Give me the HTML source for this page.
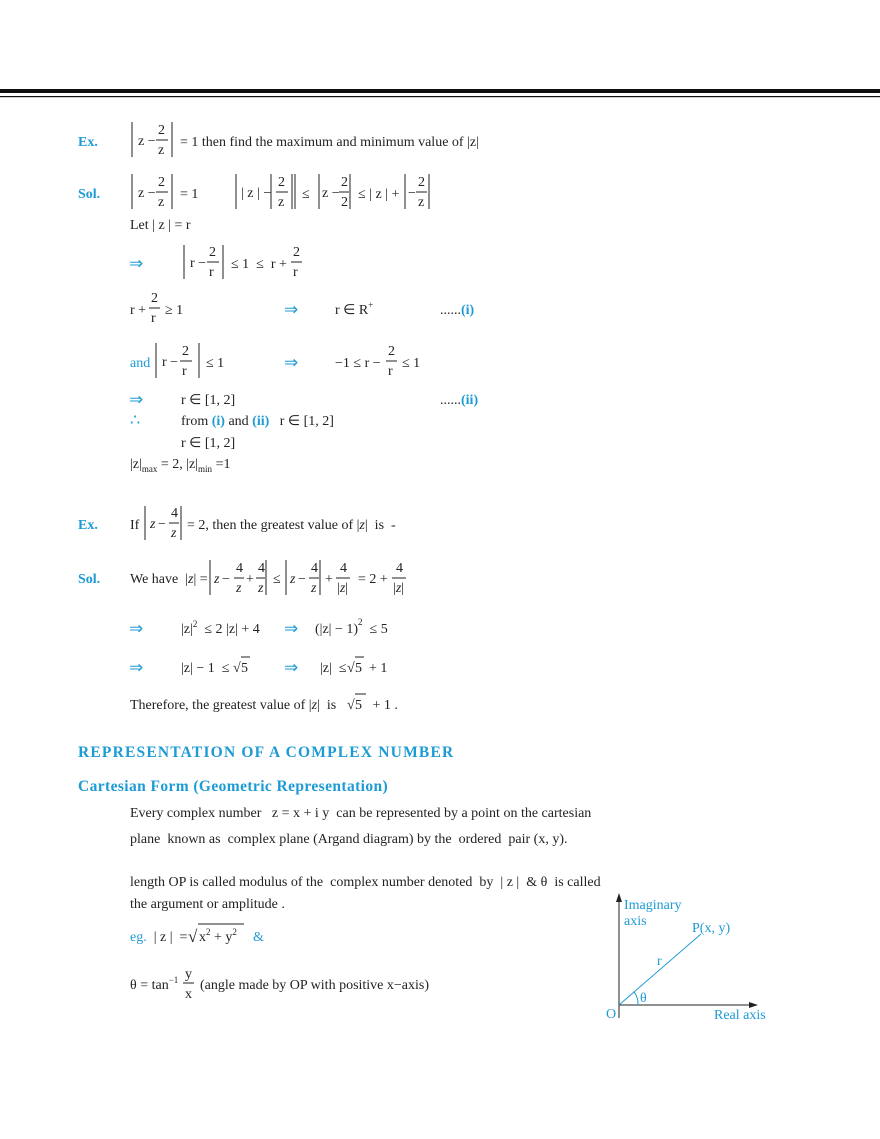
<!DOCTYPE html>
<html><head><meta charset="utf-8"><style>
html,body{margin:0;padding:0;background:#fff}
svg{display:block}
text{font-family:"Liberation Serif",serif;font-size:14px;fill:#222;white-space:pre}
.b{fill:#1d9bd4}
.ar{fill:#1d9bd4;font-size:17px}
.bb{fill:#1d9bd4;font-weight:bold}
.h{fill:#1d9bd4;font-weight:bold;font-size:15.5px;letter-spacing:1.2px}
.s{font-size:9px}
line{stroke:#222;stroke-width:1}
</style></head><body>
<svg width="880" height="1139" viewBox="0 0 880 1139" xmlns="http://www.w3.org/2000/svg">
<rect x="0" y="89" width="880" height="4" fill="#111"/>
<rect x="0" y="96" width="880" height="1.2" fill="#111"/>

<!-- Ex 1 -->
<text x="78" y="146" class="bb">Ex.</text>
<line x1="132" y1="122" x2="132" y2="157"/><line x1="172" y1="122" x2="172" y2="157"/>
<text x="138" y="145">z −</text><text x="158" y="134">2</text><line x1="156" y1="140" x2="168" y2="140"/><text x="158" y="154">z</text>
<text x="180" y="146">= 1 then find the maximum and minimum value of |z|</text>

<!-- Sol -->
<text x="78" y="198" class="bb">Sol.</text>
<line x1="132" y1="174" x2="132" y2="209"/><line x1="172" y1="174" x2="172" y2="209"/>
<text x="138" y="197">z −</text><text x="158" y="186">2</text><line x1="156" y1="192" x2="168" y2="192"/><text x="158" y="206">z</text>
<text x="180" y="198">= 1</text>
<line x1="236" y1="174" x2="236" y2="209"/><line x1="292" y1="174" x2="292" y2="209"/><line x1="295" y1="174" x2="295" y2="209"/>
<text x="241" y="197">| z | −</text><line x1="271" y1="174" x2="271" y2="209"/>
<text x="278" y="186">2</text><line x1="276" y1="192" x2="288" y2="192"/><text x="278" y="206">z</text>
<text x="302" y="198">≤</text>
<line x1="319" y1="174" x2="319" y2="209"/><line x1="350" y1="174" x2="350" y2="209"/>
<text x="322" y="197">z −</text><text x="341" y="186">2</text><line x1="339" y1="192" x2="349" y2="192"/><text x="341" y="206">2</text>
<text x="358" y="198">≤ | z | +</text>
<line x1="405" y1="174" x2="405" y2="209"/><line x1="429" y1="174" x2="429" y2="209"/>
<text x="408" y="197">−</text><text x="418" y="186">2</text><line x1="416" y1="192" x2="427" y2="192"/><text x="418" y="206">z</text>

<text x="130" y="229">Let | z | = r</text>

<text x="129" y="269" class="ar">⇒</text>
<line x1="184" y1="245" x2="184" y2="279"/><line x1="223" y1="245" x2="223" y2="279"/>
<text x="190" y="267">r −</text><text x="209" y="256">2</text><line x1="207" y1="262" x2="219" y2="262"/><text x="209" y="276">r</text>
<text x="231" y="268">≤ 1  ≤  r +</text><text x="293" y="256">2</text><line x1="291" y1="262" x2="302" y2="262"/><text x="293" y="276">r</text>

<text x="130" y="314">r +</text><text x="151" y="302">2</text><line x1="149" y1="308" x2="160" y2="308"/><text x="151" y="322">r</text>
<text x="165" y="314">≥ 1</text>
<text x="284" y="315" class="ar">⇒</text>
<text x="335" y="314">r ∈ R<tspan class="s" dy="-6">+</tspan></text>
<text x="440" y="314">......<tspan class="bb">(i)</tspan></text>

<text x="130" y="367" class="b">and</text>
<line x1="156" y1="343" x2="156" y2="378"/><line x1="199" y1="343" x2="199" y2="378"/>
<text x="162" y="366">r −</text><text x="182" y="355">2</text><line x1="180" y1="361" x2="192" y2="361"/><text x="182" y="375">r</text>
<text x="206" y="367">≤ 1</text>
<text x="284" y="368" class="ar">⇒</text>
<text x="335" y="367">−1 ≤ r −</text><text x="388" y="355">2</text><line x1="386" y1="361" x2="397" y2="361"/><text x="388" y="375">r</text>
<text x="402" y="367">≤ 1</text>

<text x="129" y="405" class="ar">⇒</text><text x="181" y="404">r ∈ [1, 2]</text>
<text x="440" y="404">......<tspan class="bb">(ii)</tspan></text>
<text x="130" y="425" class="b" style="font-size:16px">∴</text><text x="181" y="425">from <tspan class="bb">(i)</tspan> and <tspan class="bb">(ii)</tspan>   r ∈ [1, 2]</text>
<text x="181" y="447">r ∈ [1, 2]</text>
<text x="130" y="468">|z|<tspan class="s" dy="4">max</tspan><tspan dy="-4"> = 2, |z|</tspan><tspan class="s" dy="4">min</tspan><tspan dy="-4"> =1</tspan></text>

<!-- Ex 2 -->
<text x="78" y="529" class="bb">Ex.</text>
<text x="130" y="529">If</text>
<line x1="145" y1="506" x2="145" y2="540"/><line x1="181" y1="506" x2="181" y2="540"/>
<text x="150" y="528" font-style="italic">z</text><text x="158" y="528">−</text><text x="171" y="517">4</text><line x1="169" y1="523" x2="179" y2="523"/><text x="171" y="537" font-style="italic">z</text>
<text x="187" y="529">= 2, then the greatest value of |<tspan font-style="italic">z</tspan>|  is  -</text>

<text x="78" y="583" class="bb">Sol.</text>
<text x="130" y="583">We have  |<tspan font-style="italic">z</tspan>| =</text>
<line x1="210" y1="560" x2="210" y2="595"/><line x1="266" y1="560" x2="266" y2="595"/>
<text x="214" y="583" font-style="italic">z</text><text x="222" y="583">−</text><text x="236" y="572">4</text><line x1="234" y1="578" x2="244" y2="578"/><text x="236" y="592" font-style="italic">z</text>
<text x="246" y="583">+</text><text x="258" y="572">4</text><line x1="256" y1="578" x2="265" y2="578"/><text x="258" y="592" font-style="italic">z</text>
<text x="273" y="583">≤</text>
<line x1="286" y1="560" x2="286" y2="595"/><line x1="320" y1="560" x2="320" y2="595"/>
<text x="290" y="583" font-style="italic">z</text><text x="298" y="583">−</text><text x="311" y="572">4</text><line x1="309" y1="578" x2="319" y2="578"/><text x="311" y="592" font-style="italic">z</text>
<text x="325" y="583">+</text><text x="340" y="572">4</text><line x1="336" y1="578" x2="350" y2="578"/><text x="337" y="592">|<tspan font-style="italic">z</tspan>|</text>
<text x="358" y="583">= 2 +</text><text x="396" y="572">4</text><line x1="392" y1="578" x2="406" y2="578"/><text x="393" y="592">|<tspan font-style="italic">z</tspan>|</text>

<text x="129" y="634" class="ar">⇒</text>
<text x="181" y="633">|z|<tspan class="s" dy="-6">2</tspan><tspan dy="6">  ≤ 2 |z| + 4</tspan></text>
<text x="284" y="634" class="ar">⇒</text>
<text x="315" y="633">(|z| − 1)<tspan class="s" dy="-8">2</tspan><tspan dy="8">  ≤ 5</tspan></text>

<text x="129" y="673" class="ar">⇒</text>
<text x="181" y="672">|z| − 1  ≤</text>
<text x="233" y="672">√</text><text x="241" y="672">5</text>
<line x1="241" y1="657" x2="250" y2="657"/>
<text x="284" y="673" class="ar">⇒</text>
<text x="320" y="672">|z|  ≤</text>
<text x="347" y="672">√</text><text x="355" y="672">5  + 1</text>
<line x1="355" y1="657" x2="364" y2="657"/>

<text x="130" y="709">Therefore, the greatest value of |<tspan font-style="italic">z</tspan>|  is</text>
<text x="347" y="709">√</text><text x="355" y="709">5   + 1 .</text>
<line x1="355" y1="694" x2="366" y2="694"/>

<text x="78" y="757" class="h">REPRESENTATION OF A COMPLEX NUMBER</text>
<text x="78" y="791" class="bb" style="font-size:15.5px;letter-spacing:0.4px">Cartesian Form (Geometric Representation)</text>

<text x="130" y="817">Every complex number   z = x + i y  can be represented by a point on the cartesian</text>
<text x="130" y="843">plane  known as  complex plane (Argand diagram) by the  ordered  pair (x, y).</text>
<text x="130" y="886">length OP is called modulus of the  complex number denoted  by  | z |  &amp; θ  is called</text>
<text x="130" y="908">the argument or amplitude .</text>
<text x="130" y="941"><tspan class="b">eg.</tspan>  | z |  =</text>
<text x="188" y="942" style="font-size:17px">√</text>
<text x="199" y="941">x<tspan class="s" dy="-6">2</tspan><tspan dy="6"> + y</tspan><tspan class="s" dy="-6">2</tspan></text>
<line x1="198" y1="924" x2="244" y2="924"/>
<text x="253" y="941" class="b">&amp;</text>
<text x="130" y="989">θ = tan<tspan class="s" dy="-6">−1</tspan></text>
<text x="185" y="978">y</text><line x1="183" y1="983" x2="194" y2="983"/><text x="185" y="998">x</text>
<text x="200" y="989">(angle made by OP with positive x−axis)</text>

<!-- diagram -->
<line x1="619" y1="1018" x2="619" y2="900" stroke-width="1.2"/>
<polygon points="619,893 616,902 622,902" fill="#222"/>
<line x1="619" y1="1005" x2="752" y2="1005" stroke-width="1.2"/>
<polygon points="758,1005 749,1002 749,1008" fill="#222"/>
<line x1="619" y1="1005" x2="701" y2="934" style="stroke:#1d9bd4"/>
<path d="M638,1005 A19,19 0 0 0 634,992" fill="none" stroke="#1d9bd4"/>
<text x="624" y="909" class="b">Imaginary</text>
<text x="624" y="925" class="b">axis</text>
<text x="692" y="932" class="b">P(x, y)</text>
<text x="657" y="965" class="b">r</text>
<text x="640" y="1002" class="b">θ</text>
<text x="606" y="1018" class="b">O</text>
<text x="714" y="1019" class="b">Real axis</text>
</svg>
</body></html>
